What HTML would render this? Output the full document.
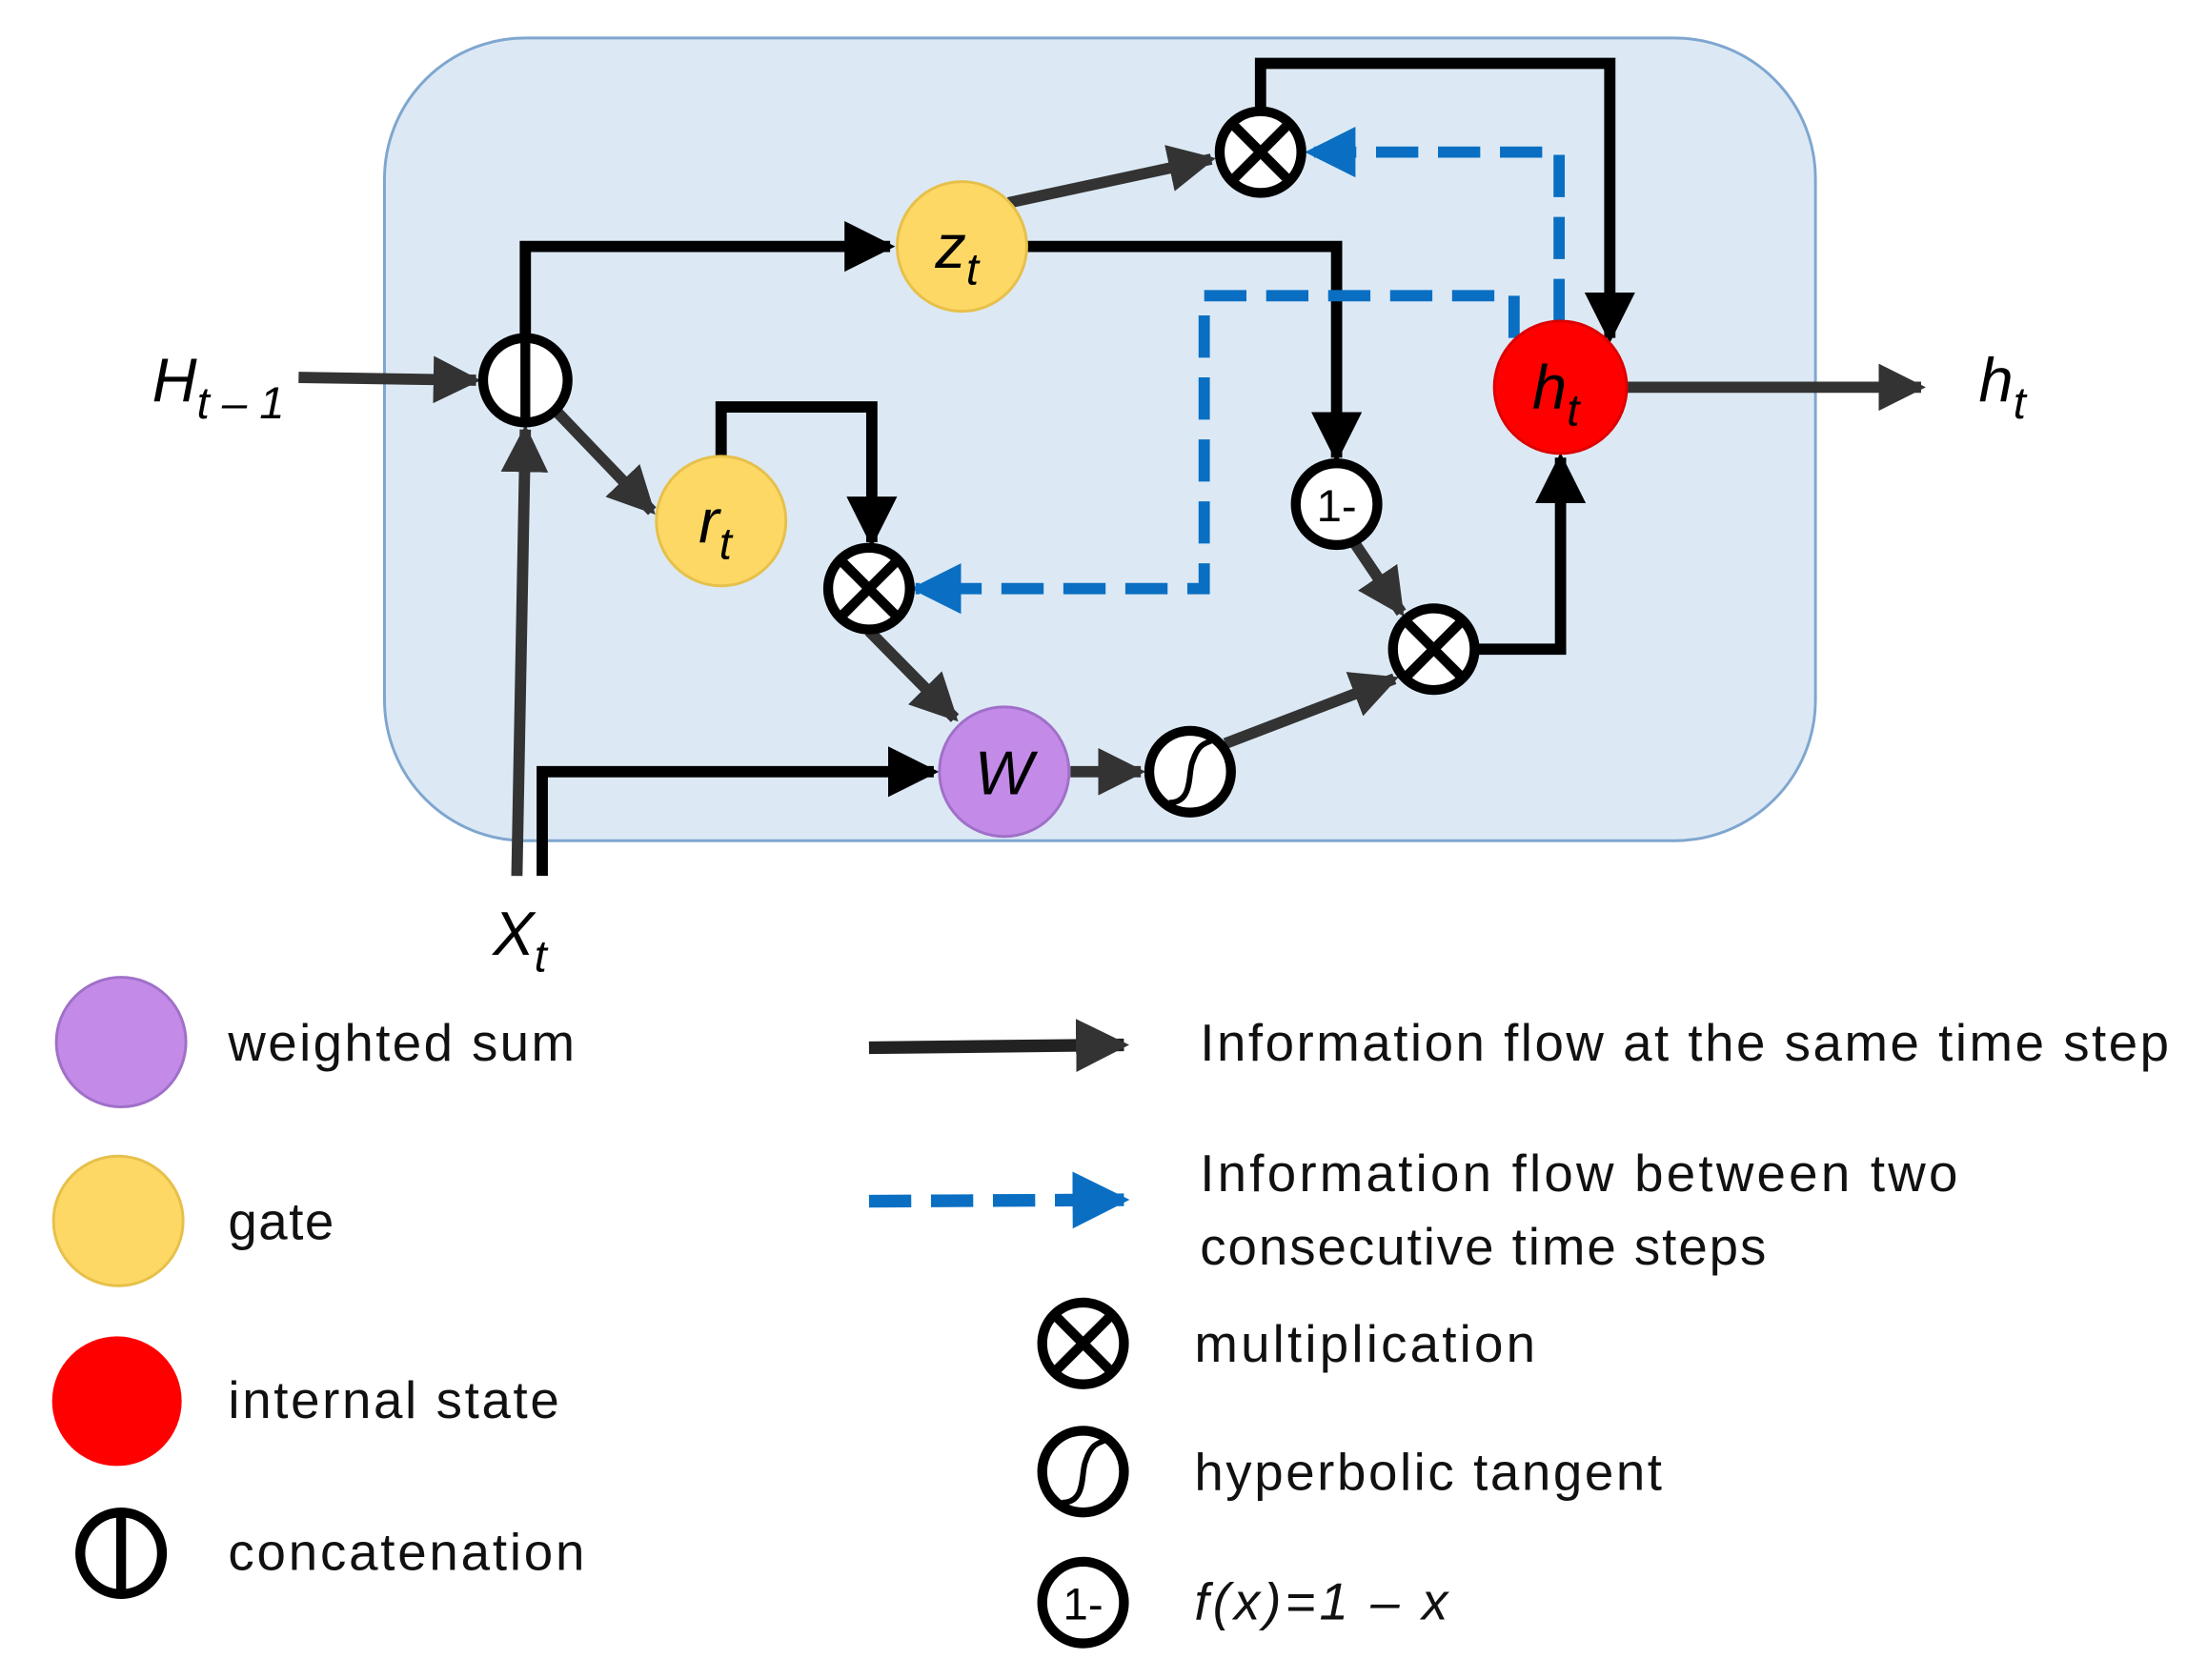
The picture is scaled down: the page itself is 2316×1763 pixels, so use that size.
<!DOCTYPE html>
<html><head><meta charset="utf-8"><style>html,body{margin:0;padding:0;background:#fff}svg{display:block}</style></head><body>
<svg width="2316" height="1763" viewBox="0 0 1567 1193" preserveAspectRatio="none" xmlns="http://www.w3.org/2000/svg" font-family="Liberation Sans, sans-serif">
<defs>
<marker id="a" viewBox="0 0 10 10" refX="9" refY="5" markerWidth="4.5" markerHeight="4.5" orient="auto" markerUnits="strokeWidth"><path d="M0,0 L10,5 L0,10 z" fill="#000"/></marker>
<marker id="ad" viewBox="0 0 10 10" refX="9" refY="5" markerWidth="4.2" markerHeight="4.2" orient="auto" markerUnits="strokeWidth"><path d="M0,0 L10,5 L0,10 z" fill="#333"/></marker>
<marker id="b" viewBox="0 0 10 10" refX="9" refY="5" markerWidth="4.5" markerHeight="4.5" orient="auto" markerUnits="strokeWidth"><path d="M0,0 L10,5 L0,10 z" fill="#0a6fc2"/></marker>
</defs>
<rect x="273" y="27" width="1016" height="570" rx="100" fill="#dce9f5" stroke="#7fa6cf" stroke-width="2"/>
<g fill="none" stroke-width="8">
<path d="M212 268 L338 270" stroke="#333" marker-end="url(#ad)"/>
<path d="M373 240 L373 175 L632 175" stroke="#000" marker-end="url(#a)"/>
<path d="M395 292 L463 363" stroke="#333" marker-end="url(#ad)"/>
<path d="M367 622 L373 305" stroke="#333" marker-end="url(#ad)"/>
<path d="M385 622 L385 548 L663 548" stroke="#000" marker-end="url(#a)"/>
<path d="M512 324 L512 289 L619 289 L619 385" stroke="#000" marker-end="url(#a)"/>
<path d="M617 448 L678 510" stroke="#333" marker-end="url(#ad)"/>
<path d="M760 548 L810 548" stroke="#333" marker-end="url(#ad)"/>
<path d="M870 528 L990 482" stroke="#333" marker-end="url(#ad)"/>
<path d="M962 386 L995 435" stroke="#333" marker-end="url(#ad)"/>
<path d="M1048 461 L1108 461 L1108 325" stroke="#000" marker-end="url(#a)"/>
<path d="M716 144 L860 113" stroke="#333" marker-end="url(#ad)"/>
<path d="M729 175 L949 175 L949 325" stroke="#000" marker-end="url(#a)"/>
<path d="M895 78 L895 45 L1143 45 L1143 240" stroke="#000" marker-end="url(#a)"/>
<path d="M1155 275 L1364 275" stroke="#333" marker-end="url(#ad)"/>
<path d="M1107 228 L1107 108 L930 108" stroke="#0a6fc2" stroke-dasharray="30 14" marker-end="url(#b)"/>
<path d="M1075 240 L1075 210 L855 210 L855 418 L650 418" stroke="#0a6fc2" stroke-dasharray="30 14" marker-end="url(#b)"/>
</g>
<circle cx="683" cy="175" r="46" fill="#fdd865" stroke="#e6c04a" stroke-width="2"/>
<circle cx="512" cy="370" r="46" fill="#fdd865" stroke="#e6c04a" stroke-width="2"/>
<circle cx="1108" cy="275" r="47" fill="#f00" stroke="#d00" stroke-width="2"/>
<circle cx="713" cy="548" r="46" fill="#c38ae8" stroke="#a070c8" stroke-width="2"/>
<g fill="#fff" stroke="#000" stroke-width="7">
<circle cx="373" cy="270" r="30"/><line x1="373" y1="240" x2="373" y2="300"/>
<circle cx="895" cy="108" r="29"/><path d="M875 88 L915 128 M915 88 L875 128"/>
<circle cx="617" cy="418" r="29"/><path d="M597 398 L637 438 M637 398 L597 438"/>
<circle cx="1018" cy="461" r="29"/><path d="M998 441 L1038 481 M1038 441 L998 481"/>
<circle cx="949" cy="358" r="29"/>
<circle cx="845" cy="548" r="29"/><path d="M830 570 C848 570 843 548 847 540 C851 528 856 528 860 526" fill="none" stroke-width="4"/>
</g>
<text x="949" y="370" font-size="32" text-anchor="middle">1-</text>
<g font-style="italic" font-size="44">
<text x="664" y="190">z<tspan font-size="32" dy="12">t</tspan></text>
<text x="496" y="385">r<tspan font-size="32" dy="12">t</tspan></text>
<text x="1088" y="290">h<tspan font-size="32" dy="12">t</tspan></text>
<text x="692" y="564">W</text>
<text x="108" y="285">H<tspan font-size="32" dy="12">t – 1</tspan></text>
<text x="1405" y="285">h<tspan font-size="32" dy="12">t</tspan></text>
<text x="350" y="678">X<tspan font-size="32" dy="12">t</tspan></text>
</g>
<circle cx="86" cy="740" r="46" fill="#c38ae8" stroke="#a070c8" stroke-width="2"/>
<circle cx="84" cy="867" r="46" fill="#fdd865" stroke="#e6c04a" stroke-width="2"/>
<circle cx="83" cy="995" r="46" fill="#f00"/>
<g fill="#fff" stroke="#000" stroke-width="7">
<circle cx="86" cy="1103" r="29"/><line x1="86" y1="1074" x2="86" y2="1132"/>
<circle cx="769" cy="954" r="29"/><path d="M749 934 L789 974 M789 934 L749 974"/>
<circle cx="769" cy="1045" r="29"/><path d="M754 1067 C772 1067 767 1045 771 1037 C775 1025 780 1025 784 1023" fill="none" stroke-width="4"/>
<circle cx="769" cy="1138" r="29"/>
</g>
<text x="769" y="1150" font-size="32" text-anchor="middle">1-</text>
<path d="M617 744 L798 742" stroke="#222" stroke-width="9" marker-end="url(#ad)" fill="none"/>
<path d="M617 853 L798 852" stroke="#0a6fc2" stroke-width="9" stroke-dasharray="30 14" marker-end="url(#b)" fill="none"/>
<g font-size="37" fill="#111" lengthAdjust="spacingAndGlyphs">
<text x="162" y="753" textLength="246">weighted sum</text>
<text x="162" y="880" textLength="75">gate</text>
<text x="162" y="1007" textLength="235">internal state</text>
<text x="162" y="1115" textLength="253">concatenation</text>
<text x="852" y="753" textLength="688">Information flow at the same time step</text>
<text x="852" y="846" textLength="538">Information flow between two</text>
<text x="852" y="898" textLength="402">consecutive time steps</text>
<text x="848" y="967" textLength="242">multiplication</text>
<text x="848" y="1058" textLength="332">hyperbolic tangent</text>
<text x="848" y="1150" font-style="italic" textLength="180">f(x)=1 – x</text>
</g>
</svg>
</body></html>
